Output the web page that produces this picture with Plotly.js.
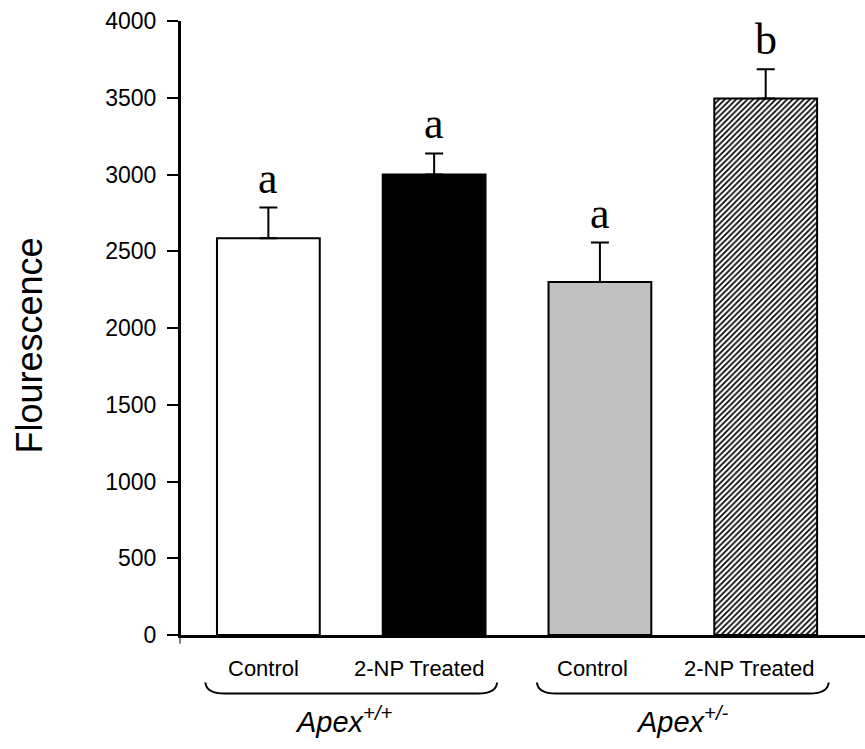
<!DOCTYPE html>
<html>
<head>
<meta charset="utf-8">
<script src="https://cdn.plot.ly/plotly-3.0.1.min.js"></script>
<style>html,body{margin:0;padding:0;background:#fff;}#chart{width:865px;height:749px;}</style>
</head>
<body>
<div id="chart"></div>
<script>
// ---- data ----
const categories = ['Control', '2-NP Treated', 'Control', '2-NP Treated'];
const fluorescence = [2585, 3000, 2300, 3495];
const errorUp = [200, 137, 257, 190];
const sigLetters = ['a', 'a', 'a', 'b'];
const groups = ['<i>Apex<sup>+/+</sup></i>', '<i>Apex<sup>+/-</sup></i>'];
const groupMembers = [[0, 1], [2, 3]];
const yTickVals = [0, 500, 1000, 1500, 2000, 2500, 3000, 3500, 4000];
const yTitle = 'Flourescence';

// ---- style ----
const barColors = ['#ffffff', '#000000', '#c0c0c0', '#ffffff'];
const hatched = [false, false, false, true];
const labelShift = [-5, -15, -7, -17];
const groupShift = [-7, 0];
const xRange = [-0.527, 3.599];
const sans = 'Arial, "Liberation Sans", sans-serif';
const serif = '"Times New Roman", "Liberation Serif", serif';

const xIdx = categories.map((_, i) => i);

const traces = xIdx.map(i => {
  const marker = {color: barColors[i], line: {color: '#000', width: 2}};
  if (hatched[i]) {
    marker.pattern = {shape: '/', size: 4, solidity: 0.42, fgcolor: '#000', bgcolor: '#ffffff', fillmode: 'replace'};
  }
  return {
    type: 'bar',
    x: [xIdx[i]],
    y: [fluorescence[i]],
    width: 0.62,
    marker: marker,
    error_y: {
      type: 'data', symmetric: false, array: [errorUp[i]], arrayminus: [0],
      color: '#000', thickness: 2, width: 9
    },
    hoverinfo: 'none'
  };
});

const annotations = [];
// significance letters
sigLetters.forEach((s, i) => {
  annotations.push({
    x: xIdx[i], y: fluorescence[i] + errorUp[i], xref: 'x', yref: 'y',
    text: s, showarrow: false, xanchor: 'center', yanchor: 'bottom', yshift: 3,
    font: {family: serif, size: 44, color: '#000'}
  });
});
// category labels
categories.forEach((c, i) => {
  annotations.push({
    x: xIdx[i], y: -0.054, xref: 'x', yref: 'paper',
    text: c, showarrow: false, xanchor: 'center', yanchor: 'middle', xshift: labelShift[i],
    font: {family: sans, size: 22, color: '#000'}
  });
});
// y title
annotations.push({
  x: -0.2208, y: 0.4715, xref: 'paper', yref: 'paper', textangle: -90,
  text: yTitle, showarrow: false, xanchor: 'center', yanchor: 'middle',
  font: {family: sans, size: 36, color: '#000'}
});
// group braces and labels
const pX = v => (v - xRange[0]) / (xRange[1] - xRange[0]);
const shapes = [];
groups.forEach((g, k) => {
  const a = xIdx[groupMembers[k][0]] - 0.38;
  const b = xIdx[groupMembers[k][1]] + 0.38;
  const x0 = pX(a), x1 = pX(b);
  const yt = -0.0774, yb = -0.0953, r = 0.028;
  shapes.push({
    type: 'path', xref: 'paper', yref: 'paper',
    path: `M ${x0},${yt} C ${x0+0.001},${yb+0.006} ${x0+r*0.35},${yb} ${x0+r},${yb} L ${x1-r},${yb} C ${x1-r*0.35},${yb} ${x1-0.001},${yb+0.006} ${x1},${yt}`,
    line: {color: '#000', width: 2}
  });
  annotations.push({
    x: (a + b) / 2, y: -0.139, xref: 'x', yref: 'paper',
    text: g, showarrow: false, xanchor: 'center', yanchor: 'middle', xshift: groupShift[k],
    font: {family: sans, size: 29, color: '#000'}
  });
});
// small extension of the y axis line below the x axis
shapes.push({type: 'line', xref: 'paper', yref: 'paper', x0: -0.0015, x1: -0.0015, y0: 0, y1: -0.014,
  line: {color: '#000', width: 1}});

const layout = {
  width: 865, height: 749,
  margin: {l: 181, r: 0, t: 21, b: 114},
  paper_bgcolor: '#fff', plot_bgcolor: '#fff',
  showlegend: false,
  barmode: 'overlay',
  xaxis: {
    type: 'linear', range: xRange, showgrid: false, zeroline: false,
    showticklabels: false, ticks: '', showline: true, linecolor: '#000', linewidth: 3,
    fixedrange: true
  },
  yaxis: {
    range: [0, 4000], tickvals: yTickVals, showgrid: false, zeroline: false,
    showline: true, linecolor: '#000', linewidth: 3,
    ticks: 'outside', ticklen: 11, tickwidth: 2, tickcolor: '#000',
    ticklabelstandoff: 6,
    tickfont: {family: sans, size: 23, color: '#000'},
    fixedrange: true
  },
  annotations: annotations,
  shapes: shapes
};

Plotly.newPlot('chart', traces, layout, {displayModeBar: false});
</script>
</body>
</html>
